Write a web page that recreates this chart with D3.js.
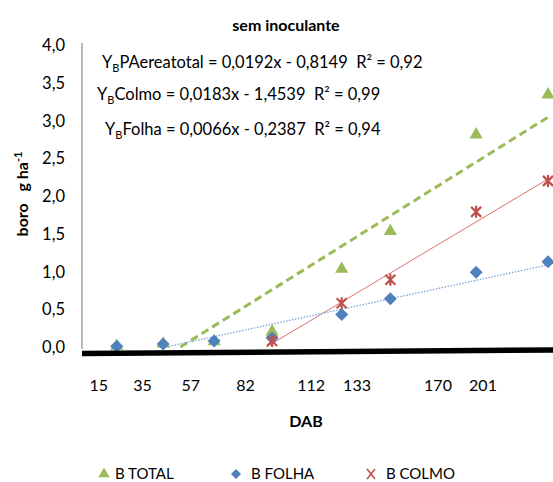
<!DOCTYPE html>
<html>
<head>
<meta charset="utf-8">
<script src="https://cdn.jsdelivr.net/npm/d3@7"></script>
<style>
  body { margin: 0; background: #fff; }
  text { font-family: Lato, "Open Sans", sans-serif; fill: #000; white-space: pre; }
</style>
</head>
<body>
<script>
const w = 553;
const h = 482;

// data
const dab = [15, 35, 57, 82, 112, 133, 170, 201];
const bTotal = [0.0, 0.03, 0.06, 0.19, 1.02, 1.52, 2.8, 3.33];
const bFolha = [0.01, 0.04, 0.08, 0.12, 0.43, 0.64, 0.99, 1.13];
const bColmo = [0.0, 0.0, 0.0, 0.08, 0.58, 0.89, 1.79, 2.2];
const yTicks = [0, 0.5, 1, 1.5, 2, 2.5, 3, 3.5, 4];
const xTickLabels = [15, 35, 57, 82, 112, 133, 170, 201];

// trend lines (slope, intercept) as printed
const trends = [
  {name: "total", a: 0.0192, b: -0.8149, r2: "0,92", label: "PAereatotal"},
  {name: "colmo", a: 0.0183, b: -1.4539, r2: "0,99", label: "Colmo"},
  {name: "folha", a: 0.0066, b: -0.2387, r2: "0,94", label: "Folha"}
];

const green = "#9bbb59", blue = "#4f81bd", red = "#c0504d";

const x = d3.scaleLinear().domain([0, 201]).range([82, 548]);
const y = d3.scaleLinear().domain([0, 4]).range([347, 45]);
// tick labels were placed a bit off the points in the original
const xLab = d3.scaleLinear().domain([0, 170, 201]).range([66, 438, 483]);

const svg = d3.select("body").append("svg")
  .attr("width", w).attr("height", h);

// title
svg.append("text").attr("x", 286).attr("y", 31)
  .attr("text-anchor", "middle").style("font-weight", "bold").style("font-size", "16px")
  .text("sem inoculante");

// y axis
svg.append("line").attr("x1", x(0)).attr("x2", x(0))
  .attr("y1", y(4) - 2).attr("y2", y(0) + 2)
  .attr("stroke", "#8c8c8c").attr("stroke-width", 1.2);

svg.append("g").selectAll("text").data(yTicks).enter().append("text")
  .attr("x", 65).attr("y", d => y(d) + 6)
  .attr("text-anchor", "end").style("font-size", "16.5px")
  .text(d => d3.format(".1f")(d).replace(".", ","));

// x tick labels
svg.append("g").selectAll("text").data(xTickLabels).enter().append("text")
  .attr("x", d => xLab(d)).attr("y", 391)
  .attr("text-anchor", "middle").style("font-size", "16px")
  .text(d => d);

// axis titles
svg.append("text").attr("x", 306).attr("y", 427)
  .attr("text-anchor", "middle").style("font-weight", "bold").style("font-size", "16px")
  .text("DAB");

const yt = svg.append("text")
  .attr("transform", "translate(28,194) rotate(-90)")
  .attr("text-anchor", "middle").style("font-weight", "bold").style("font-size", "16px");
yt.append("tspan").text("boro\u00a0\u00a0\u00a0g ha");
yt.append("tspan").attr("dy", -6).style("font-size", "11px").text("-1");

// trend lines
const line = d3.line().x(d => x(d[0])).y(d => y(d[1]));
const trendPts = t => {
  const x0 = Math.max(dab[0], -t.b / t.a);
  const x1 = dab[dab.length - 1];
  return [[x0, t.a * x0 + t.b], [x1, t.a * x1 + t.b]];
};
const trendStyle = {
  total: {c: green, w: 3, dash: "8,4.5"},
  colmo: {c: "#d9706d", w: 1, dash: null},
  folha: {c: "#7ba3d6", w: 1.3, dash: "1.5,1.5"}
};

svg.append("g").selectAll("path").data(trends).enter().append("path")
  .attr("d", t => line(trendPts(t)))
  .attr("fill", "none")
  .attr("stroke", t => trendStyle[t.name].c)
  .attr("stroke-width", t => trendStyle[t.name].w)
  .attr("stroke-dasharray", t => trendStyle[t.name].dash);

// markers
const tri = d3.symbol().type(d3.symbolTriangle).size(75);
const dia = (s) => `M0,${-s}L${s},0L0,${s}L${-s},0Z`;
const cross = (s) => `M${-s},${-s}L${s},${s}M${-s},${s}L${s},${-s}M0,${-s - 1}L0,${s + 1}`;

svg.append("g").selectAll("path").data(dab).enter().append("path")
  .attr("transform", (d, i) => `translate(${x(d)},${y(bTotal[i]) - 1})`)
  .attr("d", tri).attr("fill", green);

svg.append("g").selectAll("path").data(dab).enter().append("path")
  .attr("transform", (d, i) => `translate(${x(d)},${y(bFolha[i])})`)
  .attr("d", dia(6.5)).attr("fill", blue);

svg.append("g").selectAll("path").data(dab).enter().append("path")
  .filter((d, i) => i >= 3)
  .attr("transform", (d, i) => `translate(${x(d)},${y(bColmo[i + 3])})`)
  .attr("d", cross(5)).attr("fill", "none").attr("stroke", red).attr("stroke-width", 2.2);

// thick x axis line (slightly tilted in the original)
svg.append("line")
  .attr("x1", x(0)).attr("y1", y(0) + 6.5)
  .attr("x2", w).attr("y2", y(0) + 3)
  .attr("stroke", "#000").attr("stroke-width", 5.5);

// equations
const eqY = [62, 94, 129];
const eqX = [102, 97, 105];
trends.forEach((t, i) => {
  const tx = svg.append("text").attr("x", eqX[i]).attr("y", eqY[i] + 6).style("font-size", "16.5px");
  tx.append("tspan").text("Y");
  tx.append("tspan").attr("dy", 4).style("font-size", "11px").text("B");
  tx.append("tspan").attr("dy", -4)
    .text(`${t.label} = ${String(t.a).replace(".", ",")}x - ${String(-t.b).replace(".", ",")}\u00a0 R² = ${t.r2}`);
});

// legend
const leg = [
  {label: "B TOTAL", x: 104, sym: "tri"},
  {label: "B FOLHA", x: 236, sym: "dia"},
  {label: "B COLMO", x: 371, sym: "cross"}
];
const lg = svg.append("g").selectAll("g").data(leg).enter().append("g")
  .attr("transform", d => `translate(${d.x},474)`);
lg.each(function(d) {
  const g = d3.select(this);
  if (d.sym === "tri") g.append("path").attr("d", d3.symbol().type(d3.symbolTriangle).size(55)).attr("fill", green);
  if (d.sym === "dia") g.append("path").attr("d", dia(5)).attr("fill", blue);
  if (d.sym === "cross") g.append("path").attr("d", `M-4,-5L4,5M-4,5L4,-5`).attr("stroke", red).attr("stroke-width", 1.6);
});
lg.append("text").attr("x", d => d.sym === "tri" ? 11 : 15).attr("y", 5)
  .style("font-size", "15px").text(d => d.label);
</script>
</body>
</html>
